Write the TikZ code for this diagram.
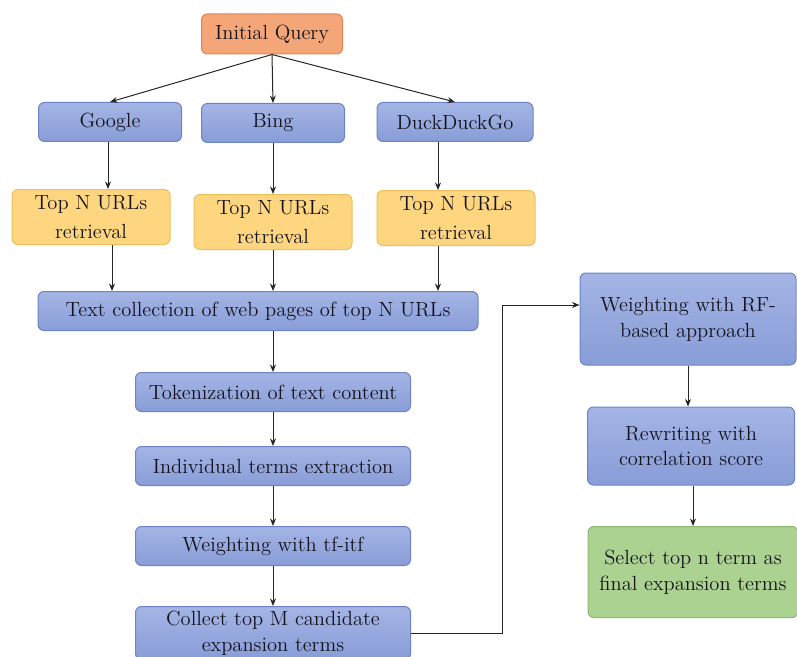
\documentclass[tikz,border=0pt]{standalone}
\usepackage{tikz}
\usetikzlibrary{
    arrows.meta,
    positioning,
    calc
}
\definecolor{inkdark}{RGB}{20,18,28}
\definecolor{bluetop}{RGB}{164,181,229}
\definecolor{bluebot}{RGB}{136,156,215}
\definecolor{blueline}{RGB}{108,132,196}
\definecolor{orfill}{RGB}{244,166,120}
\definecolor{orline}{RGB}{222,132,82}
\definecolor{yefill}{RGB}{255,214,128}
\definecolor{yeline}{RGB}{238,190,92}
\definecolor{grfill}{RGB}{172,210,146}
\definecolor{grline}{RGB}{140,184,114}
\tikzset{
  stepblk/.style = {draw=blueline, top color=bluetop, bottom color=bluebot,
                    rounded corners=3.6pt, align=center, text=inkdark,
                    font=\fontsize{12.3}{15.5}\selectfont, inner sep=1pt,
                    line width=0.6pt},
  arr/.style     = {-{Stealth[length=4.5pt,width=3.6pt]}, line width=0.6pt, black!85}
}

\begin{document}
\begin{tikzpicture}[
    x=0.6pt, y=-0.6pt,
    qry/.style={stepblk, draw=orline, top color=orfill, bottom color=orfill,
                minimum width=84.6pt, minimum height=24pt},
    eng/.style={stepblk, minimum height=23.4pt},
    url/.style={stepblk, draw=yeline, top color=yefill, bottom color=yefill,
                minimum width=94.8pt, minimum height=33pt,
                font=\fontsize{12.3}{17}\selectfont},
    proc/.style={stepblk, minimum width=165pt, minimum height=23.4pt},
    side/.style={stepblk, minimum width=125pt},
    fin/.style={stepblk, draw=grline, top color=grfill, bottom color=grfill,
                minimum width=126pt, minimum height=54.6pt}
  ]
    \useasboundingbox (0,0) rectangle (797,657);

    \node[qry] (init) at (272, 34)  {Initial Query};
    \node[eng, minimum width=85.8pt] (goog) at (110,122) {Google};
    \node[eng, minimum width=85.8pt] (bing) at (273,123) {Bing};
    \node[eng, minimum width=93.6pt] (ddg)  at (455,122) {DuckDuckGo};
    \node[url] (url1) at (91, 217)  {Top N URLs\\retrieval};
    \node[url] (url2) at (273,222)  {Top N URLs\\retrieval};
    \node[url] (url3) at (456,218)  {Top N URLs\\retrieval};
    \node[eng, minimum width=264pt] (txt) at (258,311) {Text collection of web pages of top N URLs};
    \node[proc] (tok)  at (273,392) {Tokenization of text content};
    \node[proc] (ind)  at (273,466) {Individual terms extraction};
    \node[proc] (tfw)  at (273,546) {Weighting with tf-itf};
    \node[proc, minimum height=31.8pt] (col) at (273,633) {Collect top M candidate\\expansion terms};
    \node[side, minimum width=129.6pt, minimum height=55.2pt] (rf) at (688,319) {Weighting with RF-\\based approach};
    \node[side, minimum width=124.2pt, minimum height=46.8pt] (rw) at (691,446) {Rewriting with\\correlation score};
    \node[fin] (sel) at (693,572) {Select top n term as\\final expansion terms};
    \coordinate (turn) at (502,305);

    \draw[arr] (init.south) -- (goog.north);
    \draw[arr] (init.south) -- (bing.north);
    \draw[arr] (init.south) -- (ddg.north);
    \draw[arr] ($(goog.south)+(-2,0)$) -- ($(goog.south |- url1.north)+(-2,0)$);
    \draw[arr] (bing.south) -- (bing.south |- url2.north);
    \draw[arr] ($(ddg.south)+(-17,0)$) -- ($(ddg.south |- url3.north)+(-17,0)$);
    \draw[arr] ($(goog.south |- url1.south)+(2,0)$) -- ($(goog.south |- txt.north)+(2,0)$);
    \draw[arr] (bing.south |- url2.south) -- (bing.south |- txt.north);
    \draw[arr] ($(ddg.south |- url3.south)+(-17,0)$) -- ($(ddg.south |- txt.north)+(-17,0)$);
    \draw[arr] (txt.south -| tok.north) -- (tok.north);
    \draw[arr] (tok) -- (ind);
    \draw[arr] (ind) -- (tfw);
    \draw[arr] (tfw) -- (col);
    \draw[arr] (col.east) -| (turn) -- (turn -| rf.west);
    \draw[arr] (rf.south) -- (rf.south |- rw.north);
    \draw[arr] (rw.south -| sel.north) -- (sel.north);
  \end{tikzpicture}
\end{document}
